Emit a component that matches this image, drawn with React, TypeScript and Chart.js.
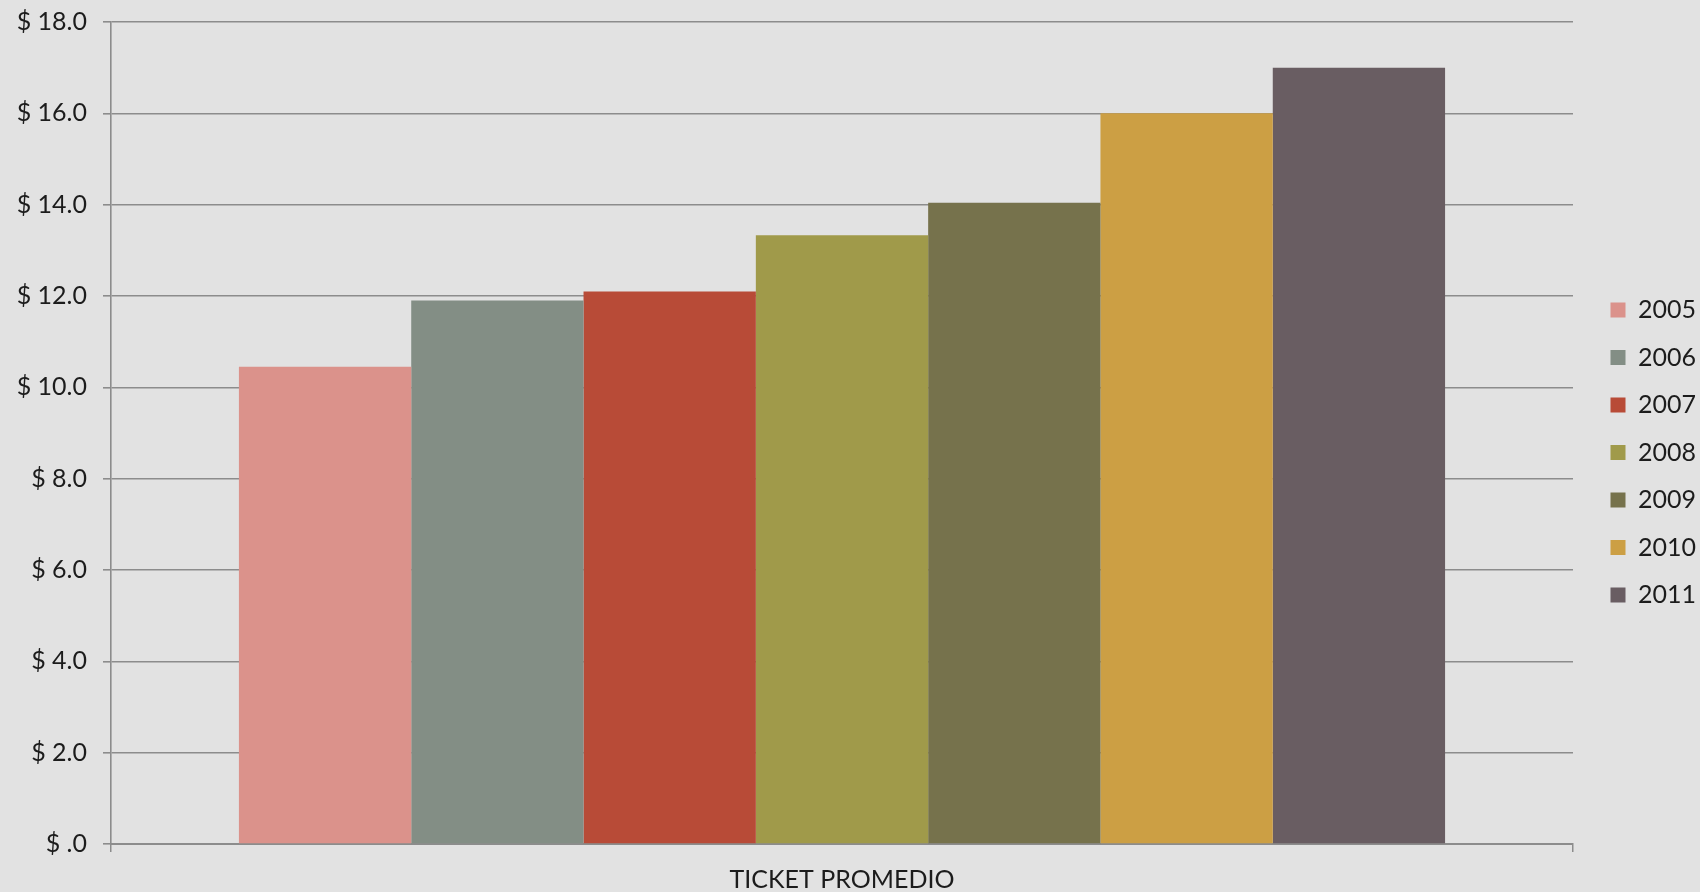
import React, { useEffect, useRef } from "react";
import { Chart, registerables } from "chart.js";

Chart.register(...registerables);

const categories = ["TICKET PROMEDIO"];
const years = ["2005", "2006", "2007", "2008", "2009", "2010", "2011"];
const values = [10.45, 11.9, 12.1, 13.33, 14.04, 16.0, 17.0];
const colors = ["#DB928B", "#838E85", "#B84B37", "#A09A4A", "#76724C", "#CC9F44", "#695D62"];
const yMin = 0;
const yMax = 18;
const yStep = 2;

const FONT = "Lato, 'Noto Sans', sans-serif";
const GRID = "#8c8c8c";
const TEXT = "#1c1c1c";

export default function App() {
  const ref = useRef<HTMLCanvasElement | null>(null);

  useEffect(() => {
    if (!ref.current) return;
    const chart = new Chart(ref.current, {
      type: "bar",
      data: {
        labels: categories,
        datasets: years.map((y, i) => ({
          label: y,
          data: [values[i]],
          backgroundColor: colors[i],
          borderWidth: 0,
          categoryPercentage: 0.825,
          barPercentage: 1,
        })),
      },
      options: {
        animation: false,
        responsive: false,
        maintainAspectRatio: false,
        layout: { padding: { top: 0, bottom: -13, left: 0, right: -6 } },
        plugins: {
          tooltip: { enabled: false },
          legend: {
            position: "right",
            labels: {
              boxWidth: 15,
              boxHeight: 15,
              padding: 22.5,
              color: TEXT,
              font: { family: FONT, size: 25 },
            },
          },
        },
        scales: {
          x: {
            grid: { display: true, drawOnChartArea: false, color: GRID, lineWidth: 1.5, tickLength: 8 },
            border: { display: true, color: GRID, width: 2 },
            ticks: { color: TEXT, font: { family: FONT, size: 25 }, padding: 13 },
            afterFit: (s: any) => {
              s.height = 61;
            },
          },
          y: {
            min: yMin,
            max: yMax,
            grid: { color: GRID, lineWidth: 1.6, tickLength: 8 },
            border: { display: true, color: GRID, width: 1.6 },
            ticks: {
              stepSize: yStep,
              color: TEXT,
              font: { family: FONT, size: 25 },
              padding: 16,
              callback: (v: any) => (Number(v) === 0 ? "$ .0" : "$ " + Number(v).toFixed(1)),
            },
            afterFit: (s: any) => {
              s.width = 111;
              s.paddingTop = 22;
              s.paddingBottom = 15;
            },
          },
          y2: {
            position: "right",
            display: true,
            grid: { display: false },
            border: { display: false },
            ticks: { display: false },
            afterFit: (s: any) => {
              s.width = 15;
              s.paddingTop = 0;
              s.paddingBottom = 0;
            },
          },
        },
      },
    });
    return () => chart.destroy();
  }, []);

  return (
    <div style={{ position: "fixed", left: 0, top: 0, width: 1700, height: 892, background: "#e2e2e2" }}>
      <canvas ref={ref} width={1700} height={892} style={{ display: "block", width: 1700, height: 892 }} />
    </div>
  );
}
